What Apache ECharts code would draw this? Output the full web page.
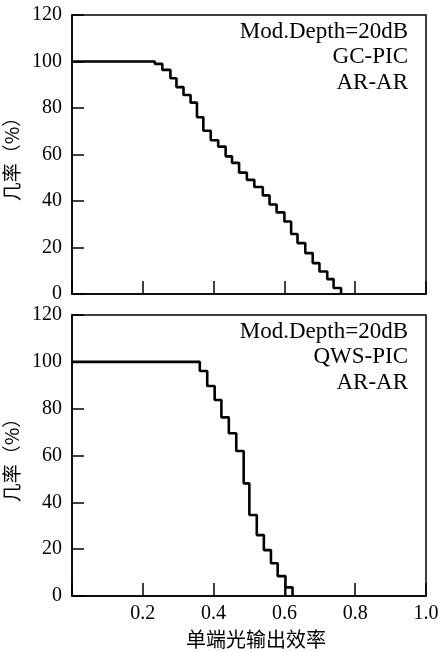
<!DOCTYPE html>
<html>
<head>
<meta charset="utf-8">
<script src="https://cdn.jsdelivr.net/npm/echarts@6/dist/echarts.min.js"></script>
<style>
html,body{margin:0;padding:0;background:#fff;}
#c{width:445px;height:652px;}
</style>
</head>
<body>
<div id="c"></div>
<script>
// Top panel: GC-PIC, step points [efficiency, probability %]
const gcX = [0, 0.234, 0.255, 0.278, 0.295, 0.315, 0.335, 0.353, 0.371, 0.392, 0.413, 0.434, 0.452, 0.472, 0.494, 0.515, 0.539, 0.558, 0.578, 0.600, 0.619, 0.637, 0.659, 0.680, 0.699, 0.721, 0.739, 0.760];
const gcY = [100, 99, 96.4, 92.8, 89, 85.6, 82.3, 76, 70.2, 66.1, 63.4, 59.2, 56.4, 52.2, 49.1, 46.0, 42.4, 38.5, 35.1, 31.2, 25.8, 21.9, 17.6, 13.3, 9.7, 6.4, 2.6, 0];
// Bottom panel: QWS-PIC
const qwsX = [0, 0.361, 0.382, 0.403, 0.422, 0.443, 0.464, 0.485, 0.501, 0.522, 0.542, 0.562, 0.581, 0.603, 0.623];
const qwsY = [100, 96.1, 89.7, 83.7, 76.3, 69.5, 61.9, 48.1, 34.6, 26.0, 19.6, 14.0, 8.5, 3.7, 0];
// closing edge of last step
const qwsEdgeX = [0.603, 0.603];
const qwsEdgeY = [3.7, 0];

const yTicks = [0, 20, 40, 60, 80, 100, 120];
const xTicks = [0, 0.2, 0.4, 0.6, 0.8, 1.0];
const xTickLabels = ['', '0.2', '0.4', '0.6', '0.8', '1.0'];

const topNotes = ['Mod.Depth=20dB', 'GC-PIC', 'AR-AR'];
const botNotes = ['Mod.Depth=20dB', 'QWS-PIC', 'AR-AR'];
const yName = '几率（%）';
const xName = '单端光输出效率';

const zip = (a, b) => a.map((v, i) => [v, b[i]]);
const serif = '"Liberation Serif", "DejaVu Serif", serif';
const cjk = '"Noto Sans CJK SC", sans-serif';

function xAxis(idx, showLabel) {
  return {
    type: 'value', gridIndex: idx, min: xTicks[0], max: xTicks[xTicks.length - 1], interval: 0.2,
    axisLine: { show: true, lineStyle: { color: '#000', width: 1.5 } },
    axisTick: { show: true, inside: true, length: 13, lineStyle: { color: '#000', width: 1.5 } },
    axisLabel: {
      show: showLabel, margin: 8, color: '#000', fontFamily: serif, fontSize: 20,
      formatter: v => { const i = xTicks.findIndex(t => Math.abs(t - v) < 1e-6); return i >= 0 ? xTickLabels[i] : ''; }
    },
    splitLine: { show: false },
    name: showLabel ? xName : '', nameLocation: 'middle', nameGap: 33,
    nameTextStyle: { color: '#000', fontFamily: cjk, fontSize: 20, padding: [0, 0, 0, 14] }
  };
}
function yAxis(idx) {
  return {
    type: 'value', gridIndex: idx, min: yTicks[0], max: yTicks[yTicks.length - 1], interval: 20,
    axisLine: { show: true, lineStyle: { color: '#000', width: 1.5 } },
    axisTick: { show: true, inside: true, length: 12, lineStyle: { color: '#000', width: 1.5 } },
    axisLabel: { margin: 10, color: '#000', fontFamily: serif, fontSize: 20 },
    splitLine: { show: false },
    name: yName, nameLocation: 'middle', nameGap: 50, nameRotate: 90,
    nameTextStyle: { color: '#000', fontFamily: cjk, fontSize: 19 }
  };
}
function notes(arr, top) {
  return arr.map((t, i) => ({
    type: 'text', right: 37, top: top + i * 25.5,
    style: { text: t, fill: '#000', font: '23px ' + serif, textAlign: 'right' }
  }));
}
const line = (data, xi) => ({
  type: 'line', xAxisIndex: xi, yAxisIndex: xi, data, step: 'end', showSymbol: false,
  lineStyle: { color: '#000', width: 2.6 }, animation: false
});

const gridBase = { left: 72, right: 19, show: true, borderColor: '#000', borderWidth: 1.5, containLabel: false, outerBoundsMode: 'none' };

const chart = echarts.init(document.getElementById('c'));
chart.setOption({
  backgroundColor: '#fff',
  animation: false,
  grid: [
    Object.assign({}, gridBase, { top: 15, height: 279 }),
    Object.assign({}, gridBase, { top: 315, height: 281 })
  ],
  xAxis: [xAxis(0, false), xAxis(1, true)],
  yAxis: [yAxis(0), yAxis(1)],
  series: [
    line(zip(gcX, gcY), 0),
    line(zip(qwsX, qwsY), 1),
    { type: 'line', xAxisIndex: 1, yAxisIndex: 1, data: zip(qwsEdgeX, qwsEdgeY), showSymbol: false,
      lineStyle: { color: '#000', width: 2 }, animation: false }
  ],
  graphic: notes(topNotes, 20).concat(notes(botNotes, 320))
});
</script>
</body>
</html>
